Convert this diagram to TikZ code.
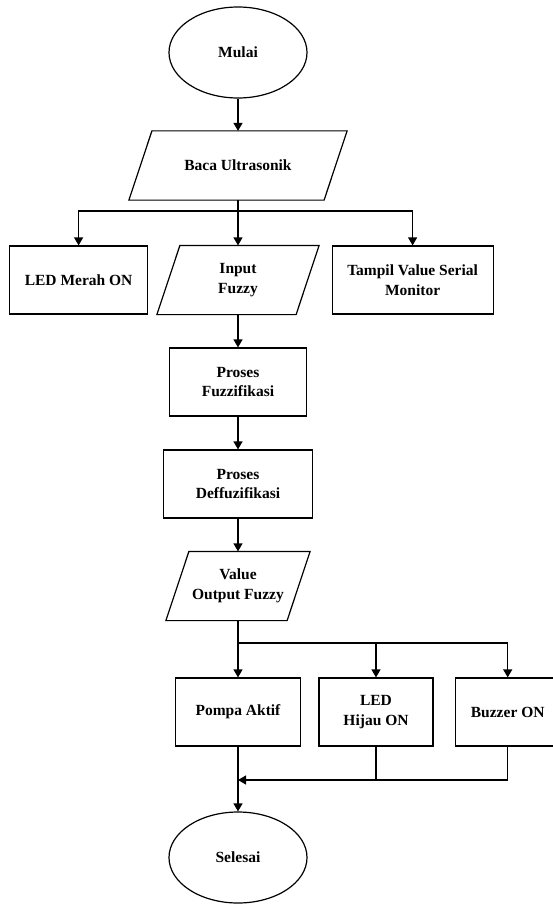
\documentclass[tikz,border=0pt]{standalone}
\usepackage{fontspec}
\setmainfont{Liberation Serif}
\usetikzlibrary{shapes.geometric,positioning,arrows.meta}
\tikzset{
terminal/.style={
    draw, ellipse, minimum width=138pt, minimum height=91pt,
    inner sep=0pt, text=black
  },
process/.style={
    draw, rectangle, minimum height=68pt,
    inner sep=2pt, align=center, text=black
  },
io/.style={
    rectangle, minimum height=68pt,
    inner sep=0pt, align=center, text=black,
    append after command={\pgfextra{\pgfinterruptpath
        \draw ([xshift=-11.5pt]\tikzlastnode.south west) --
              ([xshift=11.5pt]\tikzlastnode.north west) --
              ([xshift=11.5pt]\tikzlastnode.north east) --
              ([xshift=-11.5pt]\tikzlastnode.south east) -- cycle;
      \endpgfinterruptpath}}
  }
}

\begin{document}
\begin{tikzpicture}[
 x=1pt, y=1pt,
 line width=1.2pt,
 font=\fontsize{15.5}{19.5}\selectfont\bfseries,
 flow/.style={-{Triangle[length=8pt,width=9pt]}}
  ]
\useasboundingbox (0,0) rectangle (553,-904);
\clip (0,0) rectangle (553,-904);

\node[terminal] (mulai) at (238,-52.5) {Mulai};
\node[io, minimum width=194pt] (baca) at (238,-165.5) {Baca Ultrasonik};
\node[io, minimum width=138pt] (input) at (238,-280) {Input\\Fuzzy};
\node[process, minimum width=137.5pt] (ledmerah) at (78.6,-280) {LED Merah ON};
\node[process, minimum width=161pt] (tampil) at (412.6,-280) {Tampil Value Serial\\Monitor};
\node[process, minimum width=137pt] (fuzzifikasi) at (238,-382) {Proses\\Fuzzifikasi};
\node[process, minimum width=149pt] (deffuzifikasi) at (238,-484) {Proses\\Deffuzifikasi};
\node[io, minimum width=120pt] (value) at (238,-586) {Value\\Output Fuzzy};
\node[process, minimum width=125.6pt] (pompa) at (238,-712) {Pompa Aktif};
\node[process, minimum width=114pt] (ledhijau) [right=17pt of pompa] {LED\\Hijau ON};
\node[process, minimum width=104pt] (buzzer) [right=21.5pt of ledhijau] {Buzzer ON};
\node[terminal] (selesai) at (238,-857.5) {Selesai};

\coordinate (split1) at (238,-211);
\coordinate (split2) at (238,-643);
\coordinate (merge) at (238,-780);

\draw[flow] (mulai) -- (baca);
\draw (baca) -- (split1);
\draw[flow] (split1) -- (input);
\draw[flow] (split1) -| (ledmerah);
\draw[flow] (split1) -| (tampil);
\draw[flow] (input) -- (fuzzifikasi);
\draw[flow] (fuzzifikasi) -- (deffuzifikasi);
\draw[flow] (deffuzifikasi) -- (value);
\draw (value) -- (split2);
\draw[flow] (split2) -- (pompa);
\draw[flow] (split2) -| (ledhijau);
\draw[flow] (split2) -| (buzzer);
\draw[flow] (pompa) -- (selesai);
\draw (ledhijau) -- (ledhijau |- merge);
\draw[flow] (buzzer) |- (merge);
\end{tikzpicture}
\end{document}
